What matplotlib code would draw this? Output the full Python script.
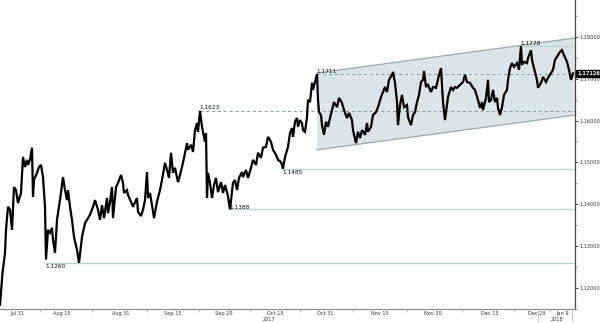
import matplotlib
matplotlib.use('Agg')
import matplotlib.pyplot as plt
import numpy as np
from matplotlib.transforms import blended_transform_factory

# trading-day offset from start of chart
t = [0.0, 0.5, 1.0, 1.2, 1.6, 2.0, 2.4, 2.8, 3.2, 3.6, 4.2, 4.6, 5.0, 5.4, 5.6, 6.0, 6.4, 6.6, 6.8, 7.4,
     7.8, 8.2, 8.6, 9.0, 9.2, 9.6, 10.0, 10.4, 10.6, 11.0, 11.4, 12.0, 12.6, 13.0, 13.4, 13.6, 14.0, 14.4, 14.8, 15.4,
     15.8, 16.4, 17.0, 17.4, 18.0, 18.6, 19.0, 19.6, 20.0, 20.4, 20.8, 21.4, 21.6, 22.0, 22.4, 22.6, 23.2, 23.6, 24.2, 24.6,
     24.8, 25.4, 25.6, 26.2, 26.6, 27.4, 27.6, 28.2, 28.6, 29.0, 29.4, 29.6, 30.0, 30.4, 30.8, 31.4, 32.0, 32.4, 33.0, 33.4,
     33.8, 34.2, 34.6, 35.0, 35.6, 36.0, 36.4, 36.8, 37.4, 37.6, 38.2, 38.6, 39.0, 39.4, 39.6, 40.0, 40.4, 40.6, 41.0, 41.2,
     41.4, 41.6, 42.0, 42.4, 42.8, 43.2, 43.6, 44.2, 44.6, 45.0, 45.4, 45.6, 46.0, 46.6, 47.0, 47.4, 47.8, 48.4, 48.6, 49.2,
     49.6, 50.2, 50.6, 51.2, 51.6, 52.2, 52.6, 53.2, 53.6, 54.2, 54.6, 55.2, 55.6, 56.2, 56.6, 57.0, 57.6, 58.0, 58.4, 58.6,
     59.0, 59.4, 59.6, 60.0, 60.4, 60.6, 61.0, 61.4, 61.6, 62.0, 62.4, 62.6, 63.0, 63.4, 63.6, 63.8, 64.2, 64.4, 64.8, 65.2,
     65.6, 66.0, 66.4, 66.8, 67.4, 67.8, 68.4, 68.8, 69.4, 69.8, 70.4, 70.6, 71.2, 71.6, 72.0, 72.4, 73.0, 73.4, 73.6, 74.2,
     74.6, 75.2, 75.6, 76.2, 76.6, 77.0, 77.4, 77.8, 78.4, 78.6, 79.0, 79.4, 79.6, 80.0, 80.4, 80.8, 81.4, 81.6, 82.2, 82.6,
     83.0, 83.4, 83.8, 84.2, 84.6, 84.8, 85.2, 85.6, 86.2, 86.6, 87.2, 87.8, 88.2, 88.4, 88.6, 89.0, 89.4, 89.6, 90.2, 90.6,
     91.0, 91.4, 92.0, 92.6, 93.0, 93.4, 94.0, 94.6, 95.0, 95.6, 96.0, 96.4, 96.6, 97.2, 97.6, 97.8, 98.2, 98.6, 99.0, 99.4,
     99.6, 100.0, 100.4, 100.8, 101.4, 101.6, 102.0, 102.4, 102.8, 103.4, 103.8, 104.2, 104.4, 104.8, 105.4, 105.6, 106.2, 106.4, 106.8, 107.4,
     107.6, 108.2, 108.6, 109.2, 109.6, 110.2, 110.6, 111.0, 111.6, 112.0, 112.4, 112.8, 113.4, 113.8, 114.2, 114.6]

price = [1.1160, 1.1236, 1.1284, 1.1339, 1.1394, 1.1387, 1.1339, 1.1441, 1.1434, 1.1403, 1.1427, 1.1513, 1.1489, 1.1506, 1.1494, 1.1506, 1.1535, 1.1418, 1.1458, 1.1475,
         1.1489, 1.1494, 1.1465, 1.1394, 1.1268, 1.1339, 1.1332, 1.1344, 1.1315, 1.1284, 1.1363, 1.1410, 1.1465, 1.1434, 1.1410, 1.1434, 1.1394, 1.1363, 1.1322, 1.1291,
         1.1260, 1.1322, 1.1355, 1.1363, 1.1375, 1.1394, 1.1410, 1.1387, 1.1363, 1.1398, 1.1367, 1.1415, 1.1379, 1.1406, 1.1441, 1.1367, 1.1441, 1.1451, 1.1470, 1.1451,
         1.1427, 1.1434, 1.1422, 1.1406, 1.1394, 1.1415, 1.1382, 1.1372, 1.1387, 1.1410, 1.1477, 1.1415, 1.1427, 1.1398, 1.1367, 1.1406, 1.1434, 1.1458, 1.1499, 1.1482,
         1.1463, 1.1523, 1.1475, 1.1487, 1.1453, 1.1470, 1.1489, 1.1511, 1.1546, 1.1530, 1.1542, 1.1525, 1.1577, 1.1594, 1.1573, 1.1623, 1.1585, 1.1573, 1.1549, 1.1570,
         1.1415, 1.1475, 1.1451, 1.1415, 1.1446, 1.1463, 1.1429, 1.1453, 1.1427, 1.1446, 1.1429, 1.1418, 1.1388, 1.1451, 1.1458, 1.1434, 1.1463, 1.1477, 1.1465, 1.1482,
         1.1463, 1.1487, 1.1506, 1.1494, 1.1523, 1.1511, 1.1535, 1.1537, 1.1561, 1.1549, 1.1530, 1.1518, 1.1506, 1.1501, 1.1485, 1.1513, 1.1537, 1.1570, 1.1582, 1.1561,
         1.1597, 1.1606, 1.1585, 1.1601, 1.1594, 1.1577, 1.1573, 1.1608, 1.1649, 1.1644, 1.1690, 1.1673, 1.1692, 1.1711, 1.1649, 1.1620, 1.1613, 1.1589, 1.1566, 1.1597,
         1.1585, 1.1606, 1.1625, 1.1644, 1.1632, 1.1654, 1.1642, 1.1625, 1.1606, 1.1618, 1.1601, 1.1577, 1.1546, 1.1573, 1.1558, 1.1577, 1.1566, 1.1594, 1.1573, 1.1585,
         1.1613, 1.1620, 1.1632, 1.1656, 1.1668, 1.1680, 1.1668, 1.1697, 1.1709, 1.1716, 1.1690, 1.1644, 1.1589, 1.1637, 1.1661, 1.1632, 1.1637, 1.1608, 1.1589, 1.1613,
         1.1620, 1.1644, 1.1661, 1.1692, 1.1697, 1.1718, 1.1680, 1.1685, 1.1668, 1.1680, 1.1678, 1.1709, 1.1725, 1.1685, 1.1644, 1.1601, 1.1637, 1.1656, 1.1680, 1.1673,
         1.1680, 1.1678, 1.1685, 1.1692, 1.1709, 1.1692, 1.1690, 1.1678, 1.1673, 1.1649, 1.1630, 1.1644, 1.1625, 1.1654, 1.1697, 1.1644, 1.1649, 1.1673, 1.1644, 1.1654,
         1.1630, 1.1613, 1.1632, 1.1661, 1.1673, 1.1697, 1.1725, 1.1737, 1.1728, 1.1737, 1.1721, 1.1778, 1.1733, 1.1740, 1.1737, 1.1749, 1.1768, 1.1745, 1.1725, 1.1697,
         1.1678, 1.1690, 1.1704, 1.1692, 1.1702, 1.1713, 1.1721, 1.1745, 1.1756, 1.1764, 1.1768, 1.1756, 1.1740, 1.1721, 1.1697, 1.17126]

levels = [1.1260, 1.1388, 1.1485, 1.1623, 1.1711, 1.1778]
level_start = [9.2, 46.0, 56.6, 40.0, 63.4, 104.2]
level_dashed = [False, False, False, True, True, False]
level_text_pos = ['below', 'center', 'below', 'above', 'above', 'above']

channel_t = [63.4, 115.0]
channel_upper = [1.17135, 1.1797]
channel_lower = [1.1530, 1.1613]

date_labels = ['Jul 31', 'Aug 15', 'Aug 31', 'Sep 15', 'Sep 29', 'Oct 15',
               'Oct 31', 'Nov 15', 'Nov 30', 'Dec 15', 'Dec 29', 'Jan 9']
date_pos = [3.4, 12.4, 24.2, 34.6, 44.8, 55.0, 65.0, 76.0, 86.6, 98.0, 107.4, 112.6]
year_labels = ['2017', '2018']
year_pos = [53.8, 111.4]
year_bounds = [107.6, 114.4]
last_price = 1.17126

yticks = [1.12, 1.13, 1.14, 1.15, 1.16, 1.17, 1.18]

plt.rcParams['font.family'] = ['DejaVu Sans']

fig = plt.figure(figsize=(6, 3.23), dpi=100)
ax = fig.add_axes([0, 14 / 323, 575 / 600, 309 / 323])
ax.set_xlim(0, 115)
ax.set_ylim(1.11502, 1.18877)

# channel
ax.fill([channel_t[0], channel_t[1], channel_t[1], channel_t[0]],
        [channel_upper[0], channel_upper[1], channel_lower[1], channel_lower[0]],
        color='#d9e5eb', zorder=1, lw=0)
ax.plot(channel_t, channel_upper, color='#97a8b0', lw=0.9, zorder=2)
ax.plot(channel_t, channel_lower, color='#97a8b0', lw=0.9, zorder=2)

# level lines
for lvl, st, dsh, pos in zip(levels, level_start, level_dashed, level_text_pos):
    if dsh:
        ax.plot([st, 115], [lvl, lvl], color='#7a9e9e', lw=0.7, ls=(0, (3, 3)), zorder=2)
    else:
        ax.plot([st, 115], [lvl, lvl], color='#b6d4d2', lw=1.0, zorder=2)
    if pos == 'below':
        off, va = -0.8, 'top'
    elif pos == 'above':
        off, va = 0.3, 'bottom'
    else:
        off, va = 1.5, 'center'
    ax.annotate(f'{lvl:.4f}', (st, lvl), xytext=(-0.5, off), textcoords='offset points',
                ha='left', va=va, fontsize=4.2, color='#111111', zorder=5)

# price
ax.plot(t, price, color='black', lw=1.6, zorder=4, solid_joinstyle='miter')

# spines
for s in ['left', 'top']:
    ax.spines[s].set_visible(False)
ax.spines['right'].set_color('#444444')
ax.spines['right'].set_linewidth(0.9)
ax.spines['bottom'].set_color('#888888')
ax.spines['bottom'].set_linewidth(0.8)

# y axis on right
ax.yaxis.tick_right()
ax.set_yticks(yticks)
ax.set_yticklabels([f'{v:.5f}' for v in yticks])
ax.set_yticks(np.arange(1.115, 1.1851, 0.005), minor=True)
ax.tick_params(axis='y', which='major', direction='out', length=2.5, width=0.6,
               pad=1, labelsize=3.6, colors='#333333')
ax.tick_params(axis='y', which='minor', direction='out', length=1.5, width=0.5, colors='#777777')

# x axis
ax.set_xticks(date_pos)
ax.set_xticklabels(date_labels)
mids = [(a + b) / 2 for a, b in zip(date_pos[:-1], date_pos[1:])]
ax.set_xticks(mids, minor=True)
ax.tick_params(axis='x', which='major', length=0, pad=1.5, labelsize=3.6, colors='#333333')
ax.tick_params(axis='x', which='minor', direction='out', length=2, width=0.5, colors='#999999')

tr = blended_transform_factory(ax.transData, fig.transFigure)
for lab, p in zip(year_labels, year_pos):
    fig.text(p, 3.3 / 323, lab, transform=tr, ha='center', va='center', fontsize=3.6, color='#333333')
for b in year_bounds:
    ax.plot([b, b], [0, -0.04], transform=blended_transform_factory(ax.transData, ax.transAxes),
            color='#aaaaaa', lw=0.5, clip_on=False)

# last price tag
ax.annotate(f'{last_price:.5f}', (1.0, last_price), xycoords=('axes fraction', 'data'),
            xytext=(1.5, 0), textcoords='offset points', ha='left', va='center',
            fontsize=3.6, color='white', fontweight='bold', zorder=10,
            bbox=dict(boxstyle='square,pad=0.25', fc='black', ec='black'),
            annotation_clip=False)

fig.savefig('out.png', dpi=100)
